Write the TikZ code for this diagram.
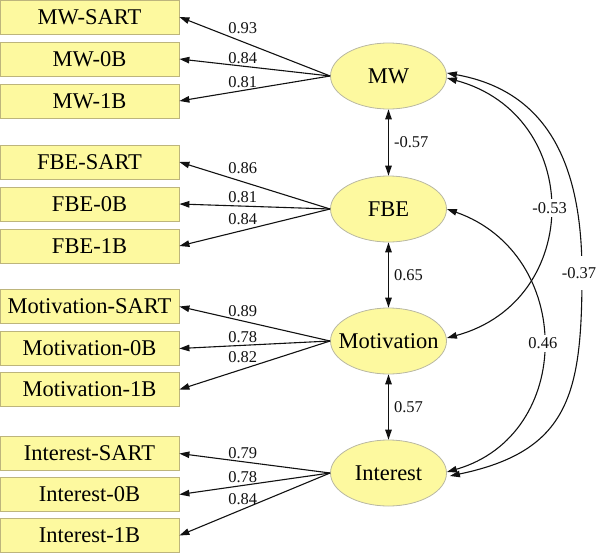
\documentclass[tikz,border=0pt]{standalone}
\usepackage{fontspec}
\setmainfont{Liberation Serif}
\usepackage{xcolor}
\usetikzlibrary{arrows.meta,shapes.geometric}
\definecolor{semfill}{HTML}{FDF99F}
\definecolor{semedge}{HTML}{BDB57C}
\definecolor{semoval}{HTML}{B9B8A2}
\definecolor{semink}{HTML}{111111}
\tikzset{
  ind/.style={draw=semedge,fill=semfill,line width=0.8pt,minimum width=179pt,minimum height=34pt,inner sep=0pt,font=\fontsize{22.5}{27}\selectfont},
  latent/.style={ellipse,draw=semoval,fill=semfill,line width=0.8pt,minimum width=116pt,minimum height=66pt,inner sep=0pt,font=\fontsize{22.5}{27}\selectfont},
  load/.style={-{Triangle[length=10pt,width=6.5pt]},draw=semink,line width=1.1pt},
  cov/.style={{Triangle[length=10pt,width=6.5pt]}-{Triangle[length=10pt,width=6.5pt]},draw=semink,line width=1.1pt},
  lbl/.style={font=\fontsize{16.5}{20}\selectfont,inner sep=1pt,text=semink},
  clbl/.style={lbl,fill=white,inner sep=3pt},
}

\begin{document}
\begin{tikzpicture}[x=1pt,y=1pt]
  \useasboundingbox (0,0) rectangle (597,-554);
  % indicators
  \foreach \n/\t/\y in {mwsart/MW-SART/17, mwzero/MW-0B/59, mwone/MW-1B/101,
      fbesart/FBE-SART/162, fbezero/FBE-0B/204, fbeone/FBE-1B/246,
      motsart/Motivation-SART/306.5, motzero/Motivation-0B/348.5, motone/Motivation-1B/389.5,
      intsart/Interest-SART/453.5, intzero/Interest-0B/494.5, intone/Interest-1B/535.5}
    \node[ind] (\n) at (89.5,-\y) {\t};
  % latent factors
  \foreach \n/\t/\y in {mw/MW/76, fbe/FBE/209, mot/Motivation/341, int/Interest/473}
    \node[latent] (\n) at (388.5,-\y) {\makebox[0pt]{\t}};
  % loadings
  \foreach \l/\i/\v/\d in {mw/mwsart/0.93/6, mw/mwzero/0.84/1, mw/mwone/0.81/1.5,
      fbe/fbesart/0.86/6, fbe/fbezero/0.81/1.7, fbe/fbeone/0.84/3.7,
      mot/motsart/0.89/3, mot/motzero/0.78/1.4, mot/motone/0.82/5,
      int/intsart/0.79/1, int/intzero/0.78/1.5, int/intone/0.84/3}
    \draw[load] (\l.west) -- node[lbl,above,pos=0.58,yshift=\d]{\v} (\i.east);
  % neighbouring factors
  \draw[cov] (mw.south) -- node[lbl,right,xshift=4pt]{-0.57} (fbe.north);
  \draw[cov] (fbe.south) -- node[lbl,right,xshift=4pt]{0.65} (mot.north);
  \draw[cov] (mot.south) -- node[lbl,right,xshift=4pt]{0.57} (int.north);
  % correlations on the right
  \coordinate (bend) at (582,-273);
  \draw[cov] ([yshift=3pt]mw.east) .. controls +(100,-18) and +(0,110) .. (bend)
    node[clbl,inner ysep=11pt,xshift=-3pt]{-0.37} .. controls +(0,-120) and +(120,25) .. ([xshift=3pt,yshift=-3pt]int.east);
  \draw[cov] ([yshift=-2pt]mw.east) .. controls +(137,-37) and +(137,37) .. ([yshift=3pt]mot.east)
    node[clbl,pos=0.5]{-0.53};
  \draw[cov] (fbe.east) .. controls +(128,-45) and +(128,37) .. ([yshift=1pt]int.east)
    node[clbl,pos=0.5]{0.46};
\end{tikzpicture}
\end{document}
